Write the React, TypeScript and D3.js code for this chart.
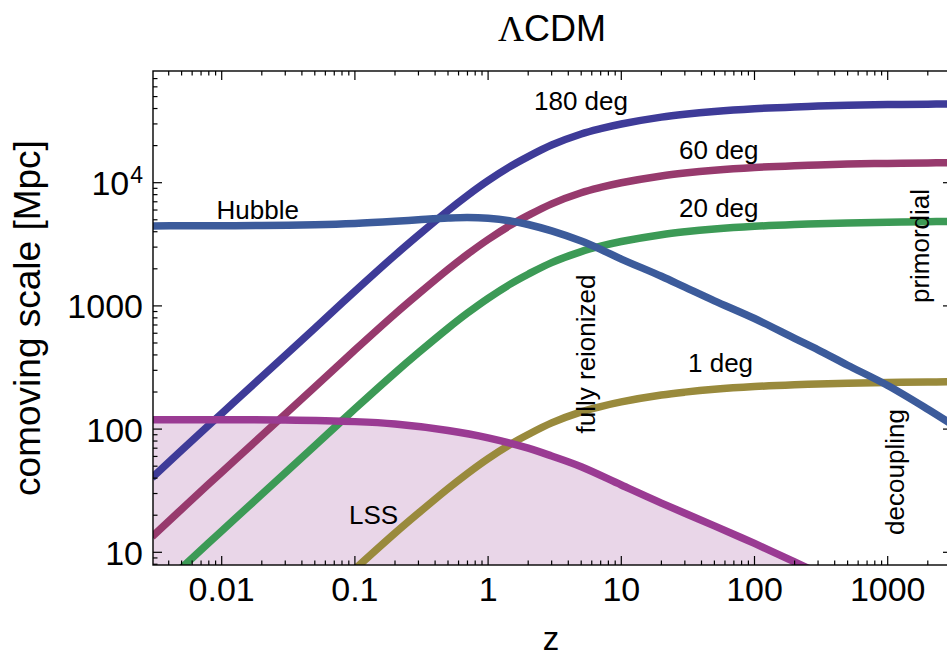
import React from 'react';
import * as d3 from 'd3';

// ---- data ----
const zGrid = [0.003, 0.005, 0.01, 0.02, 0.05, 0.1, 0.2, 0.3, 0.5, 0.7, 1, 1.5, 2, 3, 5, 7, 10, 20, 30, 50, 100, 200, 300, 500, 1000, 2000, 3000];
const scale180 = [40.3, 67.2, 134, 266, 659, 1314, 2576, 3751, 5931, 7873, 10379, 13713, 16273, 20216, 24850, 27450, 29961, 34045, 35936, 37868, 39842, 41236, 41849, 42452, 43040, 43426, 43580];
const scale60 = [13.4, 22.4, 44.7, 88.7, 220, 438, 859, 1250, 1977, 2624, 3460, 4571, 5424, 6739, 8283, 9150, 9987, 11348, 11979, 12623, 13281, 13745, 13950, 14151, 14347, 14475, 14527];
const scale20 = [4.48, 7.47, 14.9, 29.6, 73.2, 146, 286, 417, 659, 875, 1153, 1524, 1808, 2246, 2761, 3050, 3329, 3783, 3993, 4208, 4427, 4582, 4650, 4717, 4782, 4825, 4842];
const scale1 = [0.224, 0.373, 0.745, 1.48, 3.66, 7.3, 14.3, 20.8, 32.9, 43.7, 57.7, 76.2, 90.4, 112.3, 138.1, 152.5, 166.4, 189.1, 199.6, 210.4, 221.3, 229.1, 232.5, 235.8, 239.1, 241.3, 242.1];
const hubble = [4460, 4465, 4475, 4495, 4560, 4670, 4860, 5000, 5170, 5230, 5150, 4880, 4580, 4060, 3360, 2880, 2400, 1740, 1420, 1100, 790, 545, 440, 330, 226, 145, 110];
const zLSS = [0.003, 0.01, 0.03, 0.1, 0.2, 0.5, 1, 2, 3, 5, 10, 20, 50, 100, 200, 300];
const lss = [119, 119, 118.5, 115, 110, 97.5, 85, 70, 60.5, 49.5, 35.2, 25.1, 16.4, 11.8, 8.36, 6.8];

const X_MAJOR = [0.01, 0.1, 1, 10, 100, 1000];
const X_LABELS = ['0.01', '0.1', '1', '10', '100', '1000'];
const Y_MAJOR = [10, 100, 1000, 10000];
const Y_LABELS = ['10', '100', '1000', '10|4'];

const COLORS = {
  c180: '#3e3b98',
  c60: '#973a6d',
  c20: '#3c9a56',
  c1: '#998a3c',
  hubble: '#3c5b9b',
  lss: '#9a3b93',
  lssFill: '#e9d6e8',
};

const W = 947;
const H = 656;
const L = 153, R = 952, T = 71, B = 565;
const FONT = '"Liberation Sans", Arial, Helvetica, sans-serif';

export default function App() {
  const x = d3.scaleLog().domain([0.01, 1000]).range([221.7, 887.7]);
  const y = d3.scaleLog().domain([10, 10000]).range([552.3, 182.7]);
  const curve = d3.curveCatmullRom.alpha(0.5);

  const line = (zs: number[], vs: number[]) =>
    d3.line<number>()
      .x((_, i) => x(zs[i]))
      .y((v) => y(v))
      .curve(curve)(vs) || '';

  const area = d3.area<number>()
    .x((_, i) => x(zLSS[i]))
    .y0(B + 5)
    .y1((v) => y(v))
    .curve(curve)(lss) || '';

  // minor ticks
  const xMinor: number[] = [];
  for (let e = -3; e <= 3; e++) for (let m = 2; m <= 9; m++) {
    const v = m * Math.pow(10, e);
    if (x(v) > L + 0.5 && x(v) < R - 0.5) xMinor.push(v);
  }
  const yMinor: number[] = [];
  for (let e = 0; e <= 4; e++) for (let m = 2; m <= 9; m++) {
    const v = m * Math.pow(10, e);
    if (y(v) < B - 0.5 && y(v) > T + 0.5) yMinor.push(v);
  }

  const sw = 7.5;
  const maj = 9, mnr = 4.5;

  return (
    <svg width={W} height={H} style={{ position: 'absolute', left: 0, top: 0, background: '#fff' }}
      xmlns="http://www.w3.org/2000/svg">
      <defs>
        <clipPath id="plot">
          <rect x={L} y={T} width={R - L} height={B - T} />
        </clipPath>
      </defs>
      <rect x={0} y={0} width={W} height={H} fill="#fff" />

      <g clipPath="url(#plot)">
        <path d={area} fill={COLORS.lssFill} stroke="none" />
        <path d={line(zGrid, scale180)} fill="none" stroke={COLORS.c180} strokeWidth={sw} />
        <path d={line(zGrid, scale60)} fill="none" stroke={COLORS.c60} strokeWidth={sw} />
        <path d={line(zGrid, scale20)} fill="none" stroke={COLORS.c20} strokeWidth={sw} />
        <path d={line(zGrid, scale1)} fill="none" stroke={COLORS.c1} strokeWidth={sw} />
        <path d={line(zGrid, hubble)} fill="none" stroke={COLORS.hubble} strokeWidth={sw} />
        <path d={line(zLSS, lss)} fill="none" stroke={COLORS.lss} strokeWidth={sw} />
      </g>

      {/* frame */}
      <rect x={L} y={T} width={R - L} height={B - T} fill="none" stroke="#000" strokeWidth={1.4} />

      {/* ticks */}
      <g stroke="#000" strokeWidth={1.2}>
        {X_MAJOR.map((v) => (
          <g key={'xM' + v}>
            <line x1={x(v)} x2={x(v)} y1={B} y2={B - maj} />
            <line x1={x(v)} x2={x(v)} y1={T} y2={T + maj} />
          </g>
        ))}
        {xMinor.map((v) => (
          <g key={'xm' + v}>
            <line x1={x(v)} x2={x(v)} y1={B} y2={B - mnr} />
            <line x1={x(v)} x2={x(v)} y1={T} y2={T + mnr} />
          </g>
        ))}
        {Y_MAJOR.map((v) => (
          <g key={'yM' + v}>
            <line x1={L} x2={L + maj} y1={y(v)} y2={y(v)} />
            <line x1={R} x2={R - maj} y1={y(v)} y2={y(v)} />
          </g>
        ))}
        {yMinor.map((v) => (
          <g key={'ym' + v}>
            <line x1={L} x2={L + mnr} y1={y(v)} y2={y(v)} />
            <line x1={R} x2={R - mnr} y1={y(v)} y2={y(v)} />
          </g>
        ))}
      </g>

      {/* tick labels */}
      <g fontFamily={FONT} fontSize={34} fill="#000">
        {X_MAJOR.map((v, i) => (
          <text key={'xl' + v} x={x(v)} y={601} textAnchor="middle">{X_LABELS[i]}</text>
        ))}
        {Y_MAJOR.map((v, i) => {
          const lab = Y_LABELS[i];
          if (lab.includes('|')) {
            const [b, e] = lab.split('|');
            return (
              <text key={'yl' + v} x={143} y={y(v) + 12.5} textAnchor="end">
                {b}
                <tspan fontSize={23} dy={-12} dx={1}>{e}</tspan>
              </text>
            );
          }
          return (
            <text key={'yl' + v} x={143} y={y(v) + 12.5} textAnchor="end">{lab}</text>
          );
        })}
      </g>

      {/* axis titles */}
      <text x={551} y={650} fontFamily={FONT} fontSize={33} textAnchor="middle">z</text>
      <text transform={`translate(40,318) rotate(-90)`} fontFamily={FONT} fontSize={37} textAnchor="middle">
        comoving scale [Mpc]
      </text>
      <text x={552} y={41} fontFamily={FONT} fontSize={36} textAnchor="middle">
        <tspan fontFamily='"Liberation Serif", "Times New Roman", serif'>Λ</tspan>CDM
      </text>

      {/* annotations */}
      <g fontFamily={FONT} fontSize={26} fill="#000">
        <text x={534} y={110}>180 deg</text>
        <text x={679} y={158.5}>60 deg</text>
        <text x={679} y={217}>20 deg</text>
        <text x={216.5} y={219}>Hubble</text>
        <text x={688} y={372}>1 deg</text>
        <text x={349} y={524}>LSS</text>
        <text transform="translate(595,354) rotate(-90)" textAnchor="middle">fully reionized</text>
        <text transform="translate(904,472) rotate(-90)" textAnchor="middle">decoupling</text>
        <text transform="translate(929,246) rotate(-90)" textAnchor="middle">primordial</text>
      </g>
    </svg>
  );
}
